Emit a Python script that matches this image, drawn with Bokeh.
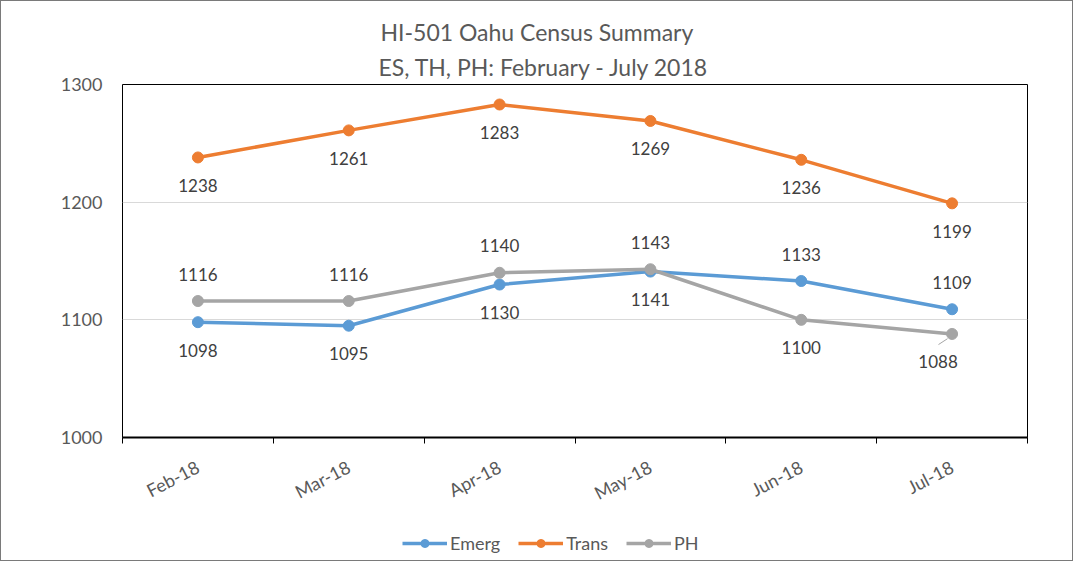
from bokeh.plotting import figure
from bokeh.layouts import column
from bokeh.models import (ColumnDataSource, LabelSet, Title, Legend, LegendItem,
                          FixedTicker, Range1d)
from bokeh.core.properties import value
from bokeh.embed import file_html
from bokeh.resources import INLINE

# ---- data ----
months = ["Feb-18", "Mar-18", "Apr-18", "May-18", "Jun-18", "Jul-18"]
emerg = [1098, 1095, 1130, 1141, 1133, 1109]
trans = [1238, 1261, 1283, 1269, 1236, 1199]
ph = [1116, 1116, 1140, 1143, 1100, 1088]

# label placement (above / below point)
emerg_pos = ["below", "below", "below", "below", "above", "above"]
trans_pos = ["below"] * 6
ph_pos = ["above", "above", "above", "above", "below", "below"]

FONT = "Lato"
xs = list(range(1, len(months) + 1))

W = 1071
H_MAIN = 515
H_LEG = 44

p = figure(width=W, height=H_MAIN, output_backend="svg", toolbar_location=None,
           x_range=Range1d(0.5, len(months) + 0.5), y_range=Range1d(1000, 1300),
           min_border_left=121, min_border_right=45, min_border_top=83,
           min_border_bottom=78, title=None)

p.outline_line_color = "black"
p.outline_line_width = 1
p.background_fill_color = "white"
p.border_fill_color = "white"

# grid
p.xgrid.visible = False
p.ygrid.ticker = FixedTicker(ticks=[1000, 1100, 1200, 1300])
p.ygrid.grid_line_color = "#d9d9d9"
p.ygrid.grid_line_width = 1

# y axis
p.yaxis.ticker = FixedTicker(ticks=[1000, 1100, 1200, 1300])
p.yaxis.axis_line_color = None
p.yaxis.major_tick_line_color = None
p.yaxis.minor_tick_line_color = None
p.yaxis.major_tick_out = 0
p.yaxis.major_label_standoff = 20
p.yaxis.major_label_text_font = FONT
p.yaxis.major_label_text_font_size = "18px"
p.yaxis.major_label_text_color = "#595959"

# x axis: labels at centers, ticks at boundaries
p.xaxis.ticker = FixedTicker(ticks=xs, minor_ticks=[x - 0.5 for x in xs] + [xs[-1] + 0.5])
p.xaxis.major_label_overrides = {x: m for x, m in zip(xs, months)}
p.xaxis.major_tick_line_color = None
p.xaxis.major_tick_out = 0
p.xaxis.minor_tick_line_color = "black"
p.xaxis.minor_tick_line_width = 1
p.xaxis.minor_tick_in = 0
p.xaxis.minor_tick_out = 6
p.xaxis.axis_line_color = "black"
p.xaxis.axis_line_width = 2
p.xaxis.major_label_orientation = 0.48
p.xaxis.major_label_standoff = 22
p.xaxis.major_label_text_font = FONT
p.xaxis.major_label_text_font_size = "18px"
p.xaxis.major_label_text_color = "#595959"

# titles (subtitle first -> closest to frame)
t2 = Title(text="ES, TH, PH: February - July 2018", align="left", offset=256,
           text_font=FONT, text_font_size="23px", text_font_style="normal",
           text_color="#595959", standoff=8)
t1 = Title(text="HI-501 Oahu Census Summary", align="left", offset=258,
           text_font=FONT, text_font_size="23px", text_font_style="normal",
           text_color="#595959", standoff=2)
p.add_layout(t2, "above")
p.add_layout(t1, "above")

series = [
    ("Emerg", emerg, emerg_pos, "#5b9bd5"),
    ("Trans", trans, trans_pos, "#ed7d31"),
    ("PH", ph, ph_pos, "#a5a5a5"),
]

# legend-only figure underneath the chart
pl = figure(width=W, height=H_LEG, output_backend="svg", toolbar_location=None,
            x_range=Range1d(0, 1), y_range=Range1d(0, 1),
            min_border=0, title=None)
pl.axis.visible = False
pl.grid.visible = False
pl.outline_line_color = None
pl.background_fill_color = "white"
pl.border_fill_color = "white"

items = []
for name, vals, pos, color in series:
    labels = [str(v) for v in vals]
    yoff = [27 if q == "above" else -28 for q in pos]
    xoff = [0] * len(vals)
    if name == "PH":
        xoff[-1] = -14
    src = ColumnDataSource(dict(x=xs, y=vals, label=labels, yoff=yoff, xoff=xoff))
    p.line("x", "y", source=src, line_color=color, line_width=3.5)
    p.scatter("x", "y", source=src, marker="circle", size=11,
              fill_color=color, line_color=color)
    if name == "PH":
        # leader line for the shifted last label
        p.segment(x0=[xs[-1] - 0.09], y0=[vals[-1] - 9.0], x1=[xs[-1] - 0.03],
                  y1=[vals[-1] - 4.0], line_color="#a5a5a5", line_width=1)
    ls = LabelSet(x="x", y="y", text="label", source=src, x_offset="xoff",
                  y_offset="yoff", text_align="center", text_baseline="middle",
                  text_font=value(FONT), text_font_size="17px", text_color="#404040")
    p.add_layout(ls)
    # legend proxies (same data, outside the legend figure's visible range)
    l1 = pl.line("x", "y", source=src, line_color=color, line_width=3.5)
    l2 = pl.scatter("x", "y", source=src, marker="circle", size=11,
                    fill_color=color, line_color=color)
    items.append(LegendItem(label=name, renderers=[l1, l2]))

legend = Legend(items=items, orientation="horizontal", location=(280, 6),
                glyph_width=45, glyph_height=20, label_standoff=3, spacing=18,
                padding=0, margin=0, border_line_color=None,
                background_fill_alpha=0, label_text_font=FONT,
                label_text_font_size="18px", label_text_color="#595959")
pl.add_layout(legend, "center")

layout = column(p, pl, spacing=0)
layout.styles = {"border": "1px solid #7a7a7a", "box-sizing": "border-box"}

open("out.html", "w").write(file_html(layout, INLINE))
